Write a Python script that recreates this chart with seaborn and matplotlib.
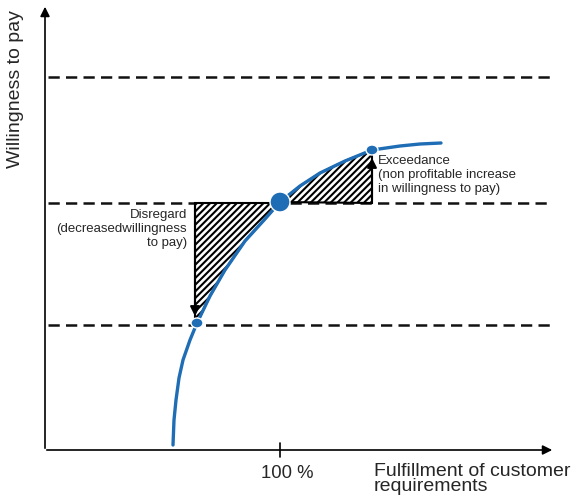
import numpy as np
import pandas as pd
import seaborn as sns
import matplotlib.pyplot as plt
from matplotlib.patches import Polygon, Ellipse

# curve (pixel-like units, y grows downward)
curve_x = [173, 174, 176, 179, 183, 190, 197, 210, 225, 245, 265, 280, 300, 320, 345, 372, 400, 420, 441]
curve_y = [445, 420, 400, 378, 360, 340, 323, 296, 270, 241, 219, 202, 186, 173, 161, 150, 146, 144, 143]

levels = [77, 203, 325]          # dashed willingness levels
pt_low = (197, 323)
pt_mid = (280, 202)
pt_high = (372, 150)

blue = "#1f6db4"

sns.set_style("white")
plt.rcParams['font.family'] = ['Liberation Sans', 'DejaVu Sans']
plt.rcParams['hatch.linewidth'] = 1.5

fig = plt.figure(figsize=(5.82, 4.99), dpi=100)
ax = fig.add_axes([0, 0, 1, 1])
ax.set_xlim(0, 582)
ax.set_ylim(499, 0)
ax.axis("off")

df = pd.DataFrame({"x": curve_x, "y": curve_y})

# hatched areas
cx = np.array(curve_x, dtype=float)
cy = np.array(curve_y, dtype=float)
left = (cx >= pt_low[0]) & (cx <= pt_mid[0])
poly_l = [(195, levels[1]), (pt_mid[0], levels[1])] + list(zip(cx[left][::-1], cy[left][::-1])) + [(195, pt_low[1])]
right = (cx >= pt_mid[0]) & (cx <= pt_high[0])
poly_r = list(zip(cx[right], cy[right])) + [(pt_high[0], levels[1])]
for p in (poly_l, poly_r):
    ax.add_patch(Polygon(p, closed=True, facecolor="white", edgecolor="black",
                         hatch="/////", lw=1.5, zorder=2))

# dashed levels
dash = dict(ls=(0, (4.5, 2.5)), color="#111111", lw=1.8, zorder=1)
ax.plot([48, 552], [levels[0]] * 2, **dash)
ax.plot([48, 195], [levels[1]] * 2, **dash)
ax.plot([290, 552], [levels[1]] * 2, **dash)
ax.plot([48, 552], [levels[2]] * 2, **dash)

sns.lineplot(data=df, x="x", y="y", ax=ax, color=blue, lw=2.4, sort=False, zorder=4)

# points
ax.add_patch(Ellipse(pt_low, 12, 10, facecolor=blue, edgecolor="white", lw=1, zorder=5))
ax.add_patch(Ellipse(pt_high, 12, 10, facecolor=blue, edgecolor="white", lw=1, zorder=5))
ax.add_patch(Ellipse(pt_mid, 20, 20, facecolor=blue, edgecolor="white", lw=1, zorder=5))

# vertical arrows
ax.annotate("", xy=(195, pt_low[1] - 4), xytext=(195, levels[1]),
            arrowprops=dict(arrowstyle="-|>", color="black", lw=1.5, mutation_scale=14), zorder=6)
ax.annotate("", xy=(pt_high[0], pt_high[1] + 5), xytext=(pt_high[0], levels[1]),
            arrowprops=dict(arrowstyle="-|>", color="black", lw=1.5, mutation_scale=14), zorder=6)

# axes with arrows
ax.annotate("", xy=(45, 4), xytext=(45, 451),
            arrowprops=dict(arrowstyle="-|>", color="black", lw=1.2, mutation_scale=14))
ax.annotate("", xy=(555, 450), xytext=(44, 450),
            arrowprops=dict(arrowstyle="-|>", color="black", lw=1.2, mutation_scale=14))
ax.plot([pt_mid[0], pt_mid[0]], [443, 457], color="black", lw=1.2)

ax.text(pt_mid[0] + 7, 473, "100 %", ha="center", va="center", fontsize=13.3)
ax.text(374, 479, "Fulfillment of customer\nrequirements", ha="left", va="center",
        fontsize=14, linespacing=0.8)
ax.text(16, 89, "Willingness to pay", rotation=90, ha="center", va="center", fontsize=14)

ax.text(187, 229, "Disregard\n(decreasedwillingness\nto pay)", ha="right", va="center",
        fontsize=9.5, linespacing=1.25)
ax.text(378, 175, "Exceedance\n(non profitable increase\nin willingness to pay)", ha="left",
        va="center", fontsize=9.5, linespacing=1.25)

fig.savefig("out.png", dpi=100)
